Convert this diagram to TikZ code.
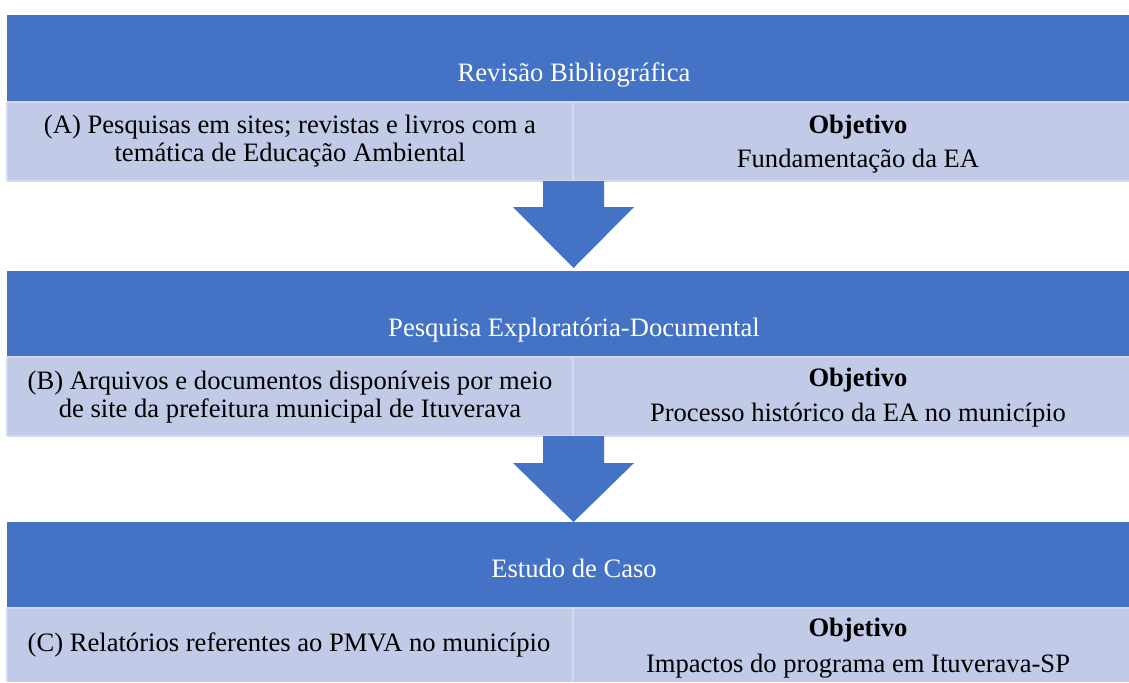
\documentclass[tikz,border=0pt]{standalone}
\usepackage{fontspec}
\setmainfont{Liberation Serif}
\definecolor{bandblue}{HTML}{4472C4}
\definecolor{rowblue}{HTML}{C1CAE6}
\definecolor{rowline}{HTML}{D3D9EE}
\begin{document}
\begin{tikzpicture}[x=0.5pt,y=-0.5pt]

      \useasboundingbox (0,0) rectangle (1129,682);

      \begin{scope}[every node/.style={font=\fontsize{13.3}{14}\selectfont, inner sep=0pt}]

        % colored bands and rows
        \fill[bandblue] (7,15)   rectangle (1129,102);
        \fill[rowblue]  (7,102)  rectangle (1129,181);
        \fill[bandblue] (7,271)  rectangle (1129,357);
        \fill[rowblue]  (7,357)  rectangle (1129,436);
        \fill[bandblue] (7,522)  rectangle (1129,608);
        \fill[rowblue]  (7,608)  rectangle (1129,682);

        \begin{scope}[rowline, line width=1pt]
          \draw (7,102) -- (1129,102);
          \draw (7,181) -- (1129,181);
          \draw (7,357) -- (1129,357);
          \draw (7,436) -- (1129,436);
          \draw (7,608) -- (1129,608);
          \draw (7,102) -- (7,181);
          \draw (7,357) -- (7,436);
          \draw (7,608) -- (7,682);
          \draw (573,102) -- (573,181);
          \draw (573,357) -- (573,436);
          \draw (573,608) -- (573,682);
        \end{scope}

        % block arrows
        \fill[bandblue] (543,181) -- (604,181) -- (604,207) -- (634,207)
          -- (573.5,268) -- (513,207) -- (543,207) -- cycle;
        \fill[bandblue] (543,436) -- (604,436) -- (604,463) -- (634,463)
          -- (573.5,522) -- (513,463) -- (543,463) -- cycle;

        \begin{scope}[every node/.append style={text=white}]
          \node (h1) at (574,75)  {Revisão Bibliográfica};
          \node (h2) at (574,330) {Pesquisa Exploratória-Documental};
          \node (h3) at (574,568) {Estudo de Caso};
        \end{scope}

        \node[align=center] (a) at (290,141) {(A) Pesquisas em sites; revistas e livros com a\\temática de Educação Ambiental};
        \node[font=\fontsize{13.3}{14}\bfseries] (oa) at (858,127) {Objetivo};
        \node (fa) at (858,161) {Fundamentação da EA};

        \node[align=center] (b) at (290,397) {(B) Arquivos e documentos disponíveis por meio\\de site da prefeitura municipal de Ituverava};
        \node[font=\fontsize{13.3}{14}\bfseries] (ob) at (858,380) {Objetivo};
        \node (fb) at (858,415) {Processo histórico da EA no município};

        \node (c) at (289,645) {(C) Relatórios referentes ao PMVA no município};
        \node[font=\fontsize{13.3}{14}\bfseries] (oc) at (858,630) {Objetivo};
        \node (fc) at (858,666) {Impactos do programa em Ituverava-SP};
      \end{scope}

    \end{tikzpicture}
\end{document}
